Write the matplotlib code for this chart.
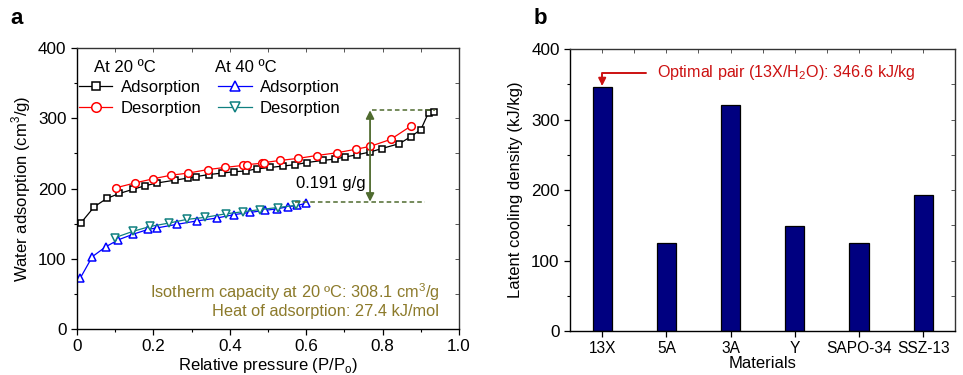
import numpy as np
import matplotlib
matplotlib.use('Agg')
import matplotlib.pyplot as plt
from matplotlib.lines import Line2D
from matplotlib.ticker import MultipleLocator

plt.rcParams['font.family'] = ['Liberation Sans', 'DejaVu Sans']
plt.rcParams['mathtext.fontset'] = 'custom'
plt.rcParams['mathtext.rm'] = 'Liberation Sans'

# isotherm data, 20 C
ads20_p = [0.010, 0.045, 0.078, 0.111, 0.147, 0.178, 0.210, 0.257, 0.291, 0.311, 0.346, 0.379,
           0.412, 0.441, 0.470, 0.505, 0.538, 0.571, 0.601, 0.643, 0.675, 0.702, 0.732, 0.767,
           0.798, 0.844, 0.874, 0.900, 0.920, 0.935]
ads20_q = [151, 174, 186, 193, 199, 204, 208, 212, 215, 217, 220, 222,
           224, 225, 228, 230, 232, 234, 237, 240, 242, 245, 248, 252,
           257, 264, 274, 284, 308, 309]
des20_p = [0.101, 0.152, 0.200, 0.246, 0.291, 0.342, 0.386, 0.435, 0.444, 0.483, 0.490, 0.531,
           0.579, 0.627, 0.681, 0.730, 0.767, 0.821, 0.874]
des20_q = [201, 208, 214, 219, 222, 227, 230, 233, 234, 236, 237, 240,
           243, 247, 251, 256, 260, 270, 289]

# isotherm data, 40 C
ads40_p = [0.008, 0.040, 0.075, 0.108, 0.147, 0.187, 0.210, 0.261, 0.315, 0.366, 0.412, 0.453,
           0.492, 0.523, 0.551, 0.577, 0.599]
ads40_q = [72, 103, 117, 127, 135, 142, 144, 149, 154, 158, 163, 166,
           169, 171, 174, 176, 179]
des40_p = [0.099, 0.146, 0.191, 0.242, 0.287, 0.335, 0.389, 0.435, 0.479, 0.525, 0.573]
des40_q = [130, 139, 146, 151, 156, 159, 164, 167, 170, 173, 176]

# latent cooling density
materials = ['13X', '5A', '3A', 'Y', 'SAPO-34', 'SSZ-13']
cooling = [346.6, 125, 320, 149, 125, 193]

olive = '#8c7a2a'
green = '#4f6b2f'
red = '#cc1111'

fig = plt.figure(figsize=(9.63, 3.75), dpi=100)
ax1 = fig.add_axes([0.080, 0.1227, 0.3967, 0.749])
ax2 = fig.add_axes([0.592, 0.1173, 0.400, 0.752])

# ---- panel a ----
mk = dict(markerfacecolor='white', markeredgewidth=1.1, linewidth=0.9)
sty = {'black': ('s', 4.5), 'red': ('o', 5.5), 'blue': ('^', 5.2), '#108080': ('v', 5.2)}
series = [(ads20_p, ads20_q, 'black'), (des20_p, des20_q, 'red'),
          (ads40_p, ads40_q, 'blue'), (des40_p, des40_q, '#108080')]
handles = []
for p, q, c in series:
    m, ms = sty[c]
    ax1.plot(p, q, color=c, marker=m, markersize=ms, **mk)
    handles.append(Line2D([], [], color=c, marker=m, markersize=ms * 1.25, **mk))

# capacity difference
top = 311.5
bot = 181.3
ax1.plot([0.771, 0.937], [top, top], ls='--', color=green, lw=1.1, dashes=(3, 2))
ax1.plot([0.571, 0.911], [bot, bot], ls='--', color=green, lw=1.1, dashes=(3, 2))
ax1.annotate('', xy=(0.767, bot), xytext=(0.767, top),
             arrowprops=dict(arrowstyle='<|-|>', color=green, lw=1.3,
                             mutation_scale=12, shrinkA=0, shrinkB=0))
ax1.text(0.755, 207, '0.191 g/g', ha='right', va='center', fontsize=12)

ax1.text(0.948, 53, 'Isotherm capacity at 20 ºC: 308.1 cm$^3$/g', ha='right', va='center',
         fontsize=11.8, color=olive)
ax1.text(0.948, 24.6, 'Heat of adsorption: 27.4 kJ/mol', ha='right', va='center',
         fontsize=11.8, color=olive)

# legend
ax1.text(0.045, 373, 'At 20 ºC', fontsize=12, va='center')
ax1.text(0.36, 373, 'At 40 ºC', fontsize=12, va='center')
labels = ['Adsorption', 'Desorption', 'Adsorption', 'Desorption']
ax1.legend(handles, labels, ncol=2, loc='upper left', bbox_to_anchor=(-0.012, 0.91),
           frameon=False, fontsize=12, handlelength=2.0, handletextpad=0.5,
           columnspacing=1.0, labelspacing=0.35, borderaxespad=0)

ax1.set_xlim(0, 1.0)
ax1.set_ylim(0, 400)
ax1.xaxis.set_minor_locator(MultipleLocator(0.1))
ax1.yaxis.set_major_locator(MultipleLocator(100))
ax1.yaxis.set_minor_locator(MultipleLocator(50))
ax1.set_xticks([0, 0.2, 0.4, 0.6, 0.8, 1.0])
ax1.set_xticklabels(['0', '0.2', '0.4', '0.6', '0.8', '1.0'])
ax1.set_xlabel('Relative pressure (P/P$_{\\rm o}$)', fontsize=12, labelpad=1)
ax1.set_ylabel('Water adsorption (cm$^3$/g)', fontsize=12, labelpad=4)

# ---- panel b ----
x = np.arange(len(materials))
ax2.bar(x, cooling, width=0.3, color='#000080', edgecolor='black', linewidth=0.9)
ax2.set_xticks(x)
ax2.set_xticklabels(materials)
ax2.set_xlim(-0.5, 5.5)
ax2.set_ylim(0, 400)
ax2.yaxis.set_major_locator(MultipleLocator(100))
ax2.yaxis.set_minor_locator(MultipleLocator(50))
ax2.set_xlabel('Materials', fontsize=12, labelpad=0)
ax2.set_ylabel('Latent cooling density (kJ/kg)', fontsize=12, labelpad=6)

ax2.annotate('', xy=(0, cooling[0] + 1), xytext=(0.68, 366),
             arrowprops=dict(arrowstyle='-|>', color=red, lw=1.4, mutation_scale=11,
                             shrinkA=0, shrinkB=0,
                             connectionstyle='angle,angleA=0,angleB=90,rad=0'))
ax2.text(0.86, 366, 'Optimal pair (13X/H$_2$O): 346.6 kJ/kg', color=red, fontsize=11.6,
         ha='left', va='center')

# ticks and spines
for ax in (ax1, ax2):
    ax.tick_params(which='both', direction='out', labelsize=12.3, top=False, right=False)
    ax.tick_params(which='major', length=4, width=0.9)
    ax.tick_params(which='minor', length=2.5, width=0.8)
    for s in ax.spines.values():
        s.set_linewidth(1.0)
    for s in ('top', 'right'):
        ax.spines[s].set_color('#333333')
    sx = ax.secondary_xaxis('top')
    sy = ax.secondary_yaxis('right')
    sx.tick_params(which='both', direction='in', labeltop=False, length=3, width=0.7, color='#555555')
    sy.tick_params(which='both', direction='in', labelright=False, length=3, width=0.7, color='#555555')
    sx.spines['top'].set_visible(False)
    sy.spines['right'].set_visible(False)
    if ax is ax1:
        sx.xaxis.set_major_locator(MultipleLocator(0.1))
    else:
        sx.xaxis.set_major_locator(MultipleLocator(0.5))
    sy.yaxis.set_major_locator(MultipleLocator(50))
    sx.set_xticklabels([])
    sy.set_yticklabels([])

ax2.tick_params(axis='x', which='minor', bottom=False)
ax2.tick_params(axis='x', labelsize=11.2)

fig.text(10 / 963, 1 - 18 / 375, 'a', fontsize=16, fontweight='bold', va='center')
fig.text(534 / 963, 1 - 18 / 375, 'b', fontsize=16, fontweight='bold', va='center')

fig.savefig('out.png', dpi=100)
